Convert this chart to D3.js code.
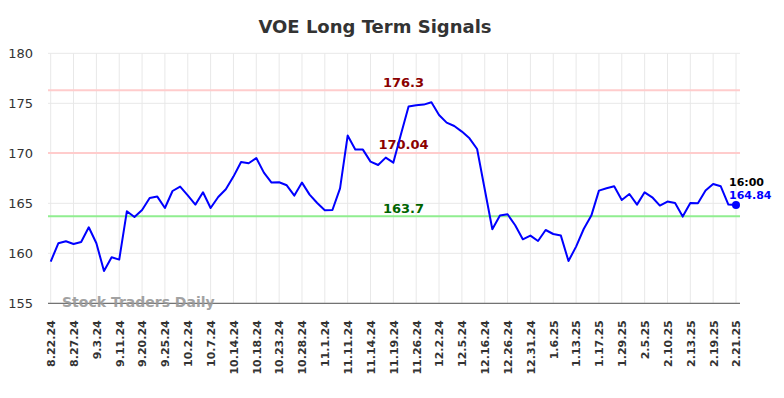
<!DOCTYPE html>
<html>
<head>
<meta charset="utf-8">
<script src="https://cdn.jsdelivr.net/npm/d3@7"></script>
<style>
  body { margin: 0; background: #fff; }
  text { font-family: "DejaVu Sans", sans-serif; }
</style>
</head>
<body>
<svg width="784" height="398"></svg>
<script>
const prices = [
  159.17, 161.0, 161.2, 160.93, 161.13, 162.6, 161.0, 158.23, 159.6, 159.37,
  164.2, 163.63, 164.33, 165.53, 165.67, 164.53, 166.23, 166.67, 165.8, 164.87,
  166.1, 164.53, 165.63, 166.4, 167.67, 169.13, 169.0, 169.53, 168.07, 167.07,
  167.1, 166.8, 165.77, 167.07, 165.87, 165.03, 164.3, 164.33, 166.5, 171.77,
  170.37, 170.37, 169.17, 168.83, 169.57, 169.07, 171.9, 174.67, 174.8, 174.87,
  175.1, 173.83, 173.07, 172.73, 172.17, 171.5, 170.43, 166.4, 162.4, 163.77,
  163.9, 162.8, 161.4, 161.77, 161.23, 162.33, 161.93, 161.77, 159.23, 160.67,
  162.43, 163.77, 166.27, 166.5, 166.7, 165.33, 165.93, 164.87, 166.1, 165.6,
  164.77, 165.17, 165.03, 163.67, 165.03, 165.0, 166.27, 166.93, 166.7, 164.87,
  164.84
]

const tickLabels = [
  "8.22.24", "8.27.24", "9.3.24", "9.11.24", "9.20.24", "9.25.24", "10.2.24",
  "10.7.24", "10.14.24", "10.18.24", "10.23.24", "10.28.24", "11.1.24",
  "11.11.24", "11.14.24", "11.19.24", "11.26.24", "12.2.24", "12.5.24",
  "12.16.24", "12.26.24", "12.31.24", "1.6.25", "1.13.25", "1.17.25",
  "1.29.25", "2.5.25", "2.10.25", "2.13.25", "2.19.25", "2.21.25"
]
const tickStep = 3

const yTicks = [155, 160, 165, 170, 175, 180]

const signalLevels = [176.3, 170.04, 163.7]
const signalKinds = ["resistance", "resistance", "support"]

const lastTime = "16:00"

const svg = d3.select("svg")
const plot = { left: 48, right: 740, top: 53.3, bottom: 303.3 }

const x = d3.scaleLinear()
  .domain([0, prices.length - 1])
  .range([50.7, 736])

const y = d3.scaleLinear()
  .domain([155, 180])
  .range([plot.bottom, plot.top])

// title
svg.append("text")
  .attr("x", 375)
  .attr("y", 33)
  .attr("text-anchor", "middle")
  .attr("font-size", 18)
  .attr("font-weight", "bold")
  .attr("fill", "#333")
  .text("VOE Long Term Signals")

// grid
const tickIdx = tickLabels.map((d, i) => Math.min(i * tickStep, prices.length - 1))

svg.append("g")
  .selectAll("line")
  .data(tickIdx)
  .join("line")
  .attr("x1", (d) => x(d))
  .attr("x2", (d) => x(d))
  .attr("y1", plot.top)
  .attr("y2", plot.bottom)
  .attr("stroke", "#e8e8e8")
  .attr("stroke-width", 1)

svg.append("g")
  .selectAll("line")
  .data(yTicks)
  .join("line")
  .attr("x1", plot.left)
  .attr("x2", plot.right)
  .attr("y1", (d) => y(d))
  .attr("y2", (d) => y(d))
  .attr("stroke", "#e8e8e8")
  .attr("stroke-width", 1)

// y axis labels
const yAxis = svg.append("g")
  .attr("transform", `translate(${plot.left},0)`)
  .call(d3.axisLeft(y).tickValues(yTicks).tickSize(0).tickPadding(15))
yAxis.select(".domain").remove()
yAxis.selectAll("text")
  .attr("font-size", 13)
  .attr("fill", "#333")
  .style("font-family", "DejaVu Sans, sans-serif")

// x axis labels
const xAxis = svg.append("g")
  .attr("transform", `translate(0,${plot.bottom})`)
  .call(
    d3.axisBottom(x)
      .tickValues(tickIdx)
      .tickFormat((d, i) => tickLabels[i])
      .tickSize(0)
  )
xAxis.select(".domain").remove()
xAxis.selectAll("text")
  .attr("font-size", 11)
  .attr("font-weight", "bold")
  .attr("fill", "#333")
  .style("font-family", "DejaVu Sans, sans-serif")
  .attr("text-anchor", "end")
  .attr("transform", "rotate(-90)")
  .attr("x", -17)
  .attr("y", 0)
  .attr("dy", "0.35em")

// bottom axis line
svg.append("line")
  .attr("x1", plot.left)
  .attr("x2", plot.right)
  .attr("y1", plot.bottom)
  .attr("y2", plot.bottom)
  .attr("stroke", "#555")
  .attr("stroke-width", 1)

// watermark
svg.append("text")
  .attr("x", 62)
  .attr("y", 307)
  .attr("font-size", 14)
  .attr("font-weight", "bold")
  .attr("fill", "#999")
  .attr("opacity", 0.9)
  .text("Stock Traders Daily")

// signal lines
const levelColor = { resistance: "#ffcccc", support: "#90ee90" }
const labelColor = { resistance: "#8b0000", support: "#006400" }

signalLevels.forEach((lv, i) => {
  const kind = signalKinds[i]
  svg.append("line")
    .attr("x1", plot.left)
    .attr("x2", plot.right)
    .attr("y1", y(lv))
    .attr("y2", y(lv))
    .attr("stroke", levelColor[kind])
    .attr("stroke-width", 2)
  svg.append("text")
    .attr("x", 403.5)
    .attr("y", y(lv) - 3.5)
    .attr("text-anchor", "middle")
    .attr("font-size", 13)
    .attr("font-weight", "bold")
    .attr("fill", labelColor[kind])
    .text(lv)
})

// price line
const line = d3.line()
  .x((d, i) => x(i))
  .y((d) => y(d))

svg.append("path")
  .datum(prices)
  .attr("fill", "none")
  .attr("stroke", "#0000ff")
  .attr("stroke-width", 2)
  .attr("stroke-linejoin", "round")
  .attr("d", line)

// last point
const lastI = prices.length - 1
const lastV = prices[lastI]
svg.append("circle")
  .attr("cx", x(lastI))
  .attr("cy", y(lastV))
  .attr("r", 4)
  .attr("fill", "#0000ff")

svg.append("text")
  .attr("x", x(lastI) - 7)
  .attr("y", y(lastV) - 19)
  .attr("font-size", 11)
  .attr("font-weight", "bold")
  .attr("fill", "#000")
  .text(lastTime)

svg.append("text")
  .attr("x", x(lastI) - 7)
  .attr("y", y(lastV) - 6)
  .attr("font-size", 11)
  .attr("font-weight", "bold")
  .attr("fill", "#0000ff")
  .text(lastV)
</script>
</body>
</html>
